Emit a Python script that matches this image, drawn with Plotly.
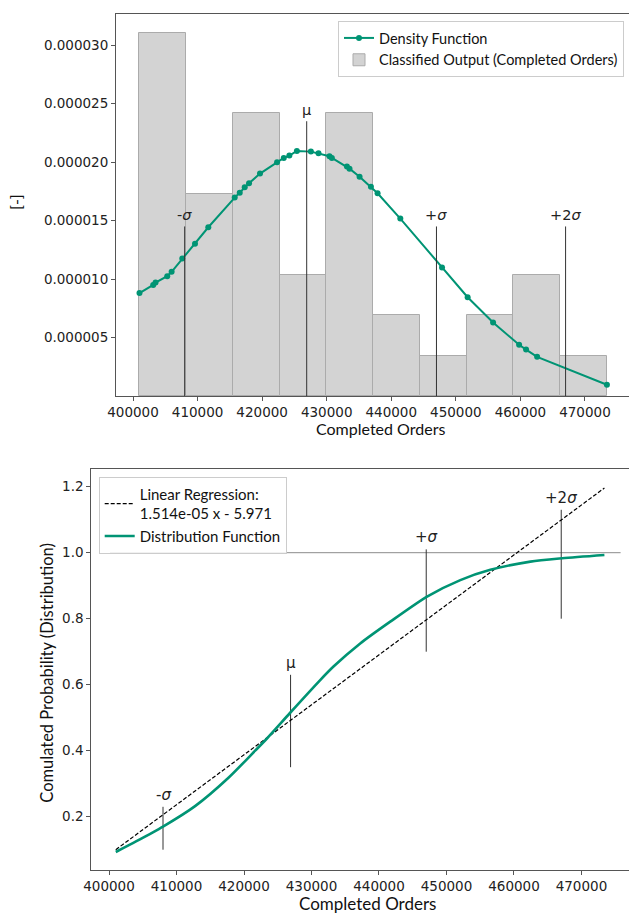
import plotly.graph_objects as go

W, H = 629, 913

# ---------------- data ----------------
bin_edges = [401000, 408240, 415480, 422720, 429960, 437200,
             444440, 451680, 458920, 466160, 473400]
bar_density = [3.108e-5, 1.727e-5, 2.417e-5, 1.036e-5, 2.417e-5,
               0.691e-5, 0.345e-5, 0.691e-5, 1.036e-5, 0.345e-5]

density_x = [401000, 403124, 403488, 405300, 405980, 407630, 409600, 411660,
             415750, 416530, 417300, 417970, 419670, 422310, 423350, 424220,
             425380, 427550, 428730, 430430, 430800, 433130, 433530, 435090,
             436850, 437880, 441400, 447860, 451830, 455770, 459800, 460880,
             462590, 473400]
density_y = [8.80e-6, 9.50e-6, 9.70e-6, 10.25e-6, 10.62e-6, 11.75e-6, 13.03e-6, 14.43e-6,
             16.97e-6, 17.39e-6, 17.86e-6, 18.20e-6, 19.02e-6, 20.00e-6, 20.36e-6, 20.56e-6,
             20.96e-6, 20.90e-6, 20.76e-6, 20.50e-6, 20.36e-6, 19.62e-6, 19.44e-6, 18.76e-6,
             17.90e-6, 17.34e-6, 15.17e-6, 10.98e-6, 8.45e-6, 6.28e-6, 4.38e-6, 3.97e-6,
             3.35e-6, 0.96e-6]

cdf_x = [401000, 404000, 408000, 412750, 417700, 421650, 423400, 426840, 431290,
         433260, 437220, 441670, 447120, 452050, 456500, 462440, 467140, 473400]
cdf_y = [0.093, 0.125, 0.170, 0.232, 0.318, 0.400, 0.437, 0.515, 0.614,
         0.655, 0.725, 0.791, 0.867, 0.917, 0.948, 0.973, 0.983, 0.993]

reg_x = [401000, 473400]
reg_y = [0.100, 1.196]

ref_x = [400150, 475800]
ref_y = [1.0, 1.0]

sigma_labels = ["-<i>σ</i>", "μ", "+<i>σ</i>", "+2<i>σ</i>"]
sigma_x = [408000, 426900, 447000, 467000]
sigma_top_density = [1.45e-5, 2.35e-5, 1.45e-5, 1.45e-5]
sigma_low_cdf = [0.10, 0.35, 0.70, 0.80]
sigma_high_cdf = [0.23, 0.63, 1.01, 1.13]

top_yticks = [5e-6, 1e-5, 1.5e-5, 2e-5, 2.5e-5, 3e-5]
xticks = [400000, 410000, 420000, 430000, 440000, 450000, 460000, 470000]
bot_yticks = [0.2, 0.4, 0.6, 0.8, 1.0, 1.2]

# ---------------- style ----------------
TEAL = "#009474"
TICKFONT = dict(family="DejaVu Sans", size=13.5, color="#222222")
TXT = "Lato"

bar_x = [(a + b) / 2 for a, b in zip(bin_edges[:-1], bin_edges[1:])]
bar_w = [b - a for a, b in zip(bin_edges[:-1], bin_edges[1:])]

fig = go.Figure()

# top chart
fig.add_trace(go.Bar(
    x=bar_x, y=bar_density, width=bar_w,
    marker=dict(color="#d3d3d3", line=dict(color="#ababab", width=1)),
    name="Classified Output (Completed Orders)",
    xaxis="x", yaxis="y", legend="legend", legendrank=2))
fig.add_trace(go.Scatter(
    x=density_x, y=density_y, mode="lines+markers",
    line=dict(color=TEAL, width=2), marker=dict(color=TEAL, size=6),
    name="Density Function", xaxis="x", yaxis="y", legend="legend", legendrank=1))
for sx, top in zip(sigma_x, sigma_top_density):
    fig.add_trace(go.Scatter(
        x=[sx, sx], y=[0, top], mode="lines",
        line=dict(color="#333333", width=1), showlegend=False,
        hoverinfo="skip", xaxis="x", yaxis="y"))

# bottom chart
fig.add_trace(go.Scatter(
    x=ref_x, y=ref_y, mode="lines", line=dict(color="#8c8c8c", width=1),
    showlegend=False, hoverinfo="skip", xaxis="x2", yaxis="y2"))
for sx, lo, hi in zip(sigma_x, sigma_low_cdf, sigma_high_cdf):
    fig.add_trace(go.Scatter(
        x=[sx, sx], y=[lo, hi], mode="lines",
        line=dict(color="#333333", width=1), showlegend=False,
        hoverinfo="skip", xaxis="x2", yaxis="y2"))
fig.add_trace(go.Scatter(
    x=reg_x, y=reg_y, mode="lines",
    line=dict(color="black", width=1.2, dash="4px,2px"),
    name="Linear Regression:<br>1.514e-05 x - 5.971",
    xaxis="x2", yaxis="y2", legend="legend2", legendrank=1))
fig.add_trace(go.Scatter(
    x=cdf_x, y=cdf_y, mode="lines",
    line=dict(color=TEAL, width=2.6, shape="spline", smoothing=0.7),
    name="Distribution Function",
    xaxis="x2", yaxis="y2", legend="legend2", legendrank=2))

axis_common = dict(showline=True, mirror=True, linecolor="#555555", linewidth=1,
                   ticks="outside", ticklen=4, tickcolor="#555555", tickwidth=1,
                   showgrid=False, zeroline=False, tickfont=TICKFONT, automargin=False)

annotations = []
for lab, sx, top in zip(sigma_labels, sigma_x, sigma_top_density):
    annotations.append(dict(x=sx, y=top, xref="x", yref="y", text=lab, showarrow=False,
                            xanchor="center", yanchor="bottom", yshift=1,
                            font=dict(family="DejaVu Sans", size=14.5, color="#222")))
for lab, sx, hi in zip(sigma_labels, sigma_x, sigma_high_cdf):
    annotations.append(dict(x=sx, y=hi, xref="x2", yref="y2", text=lab, showarrow=False,
                            xanchor="center", yanchor="bottom", yshift=1,
                            font=dict(family="DejaVu Sans", size=15, color="#222")))

# axis titles
annotations += [
    dict(text="Completed Orders", x=381 / W, y=1 - 428.5 / H, xref="paper", yref="paper",
         showarrow=False, xanchor="center", yanchor="middle",
         font=dict(family=TXT, size=16, color="#111")),
    dict(text="[-]", x=15.5 / W, y=1 - 202.5 / H, xref="paper", yref="paper",
         showarrow=False, xanchor="center", yanchor="middle", textangle=-90,
         font=dict(family=TXT, size=16, color="#111")),
    dict(text="Completed Orders", x=367 / W, y=1 - 903 / H, xref="paper", yref="paper",
         showarrow=False, xanchor="center", yanchor="middle",
         font=dict(family=TXT, size=17, color="#111")),
    dict(text="Comulated Probability (Distribution)", x=46.7 / W, y=1 - 673 / H,
         xref="paper", yref="paper", showarrow=False, xanchor="center", yanchor="middle",
         textangle=-90, font=dict(family=TXT, size=16.5, color="#111")),
]

fig.update_layout(
    width=W, height=H, autosize=False, margin=dict(l=0, r=0, t=0, b=0, autoexpand=False),
    paper_bgcolor="white", plot_bgcolor="white",
    barmode="overlay", bargap=0, showlegend=True,
    xaxis=dict(domain=[116 / W, 628.5 / W], range=[397364, 476744], anchor="y",
               tickvals=xticks, tickformat="d", **axis_common),
    yaxis=dict(domain=[1 - 396 / H, 1 - 14 / H], range=[0, 3.267e-5], anchor="x",
               tickvals=top_yticks, tickformat=".6f", **axis_common),
    xaxis2=dict(domain=[91.3 / W, 628.5 / W], range=[397375, 476969], anchor="y2",
                tickvals=xticks, tickformat="d", **axis_common),
    yaxis2=dict(domain=[1 - 870 / H, 1 - 469 / H], range=[0.0385, 1.2536], anchor="x2",
                tickvals=bot_yticks, tickformat=".1f", **axis_common),
    legend=dict(x=338 / W, y=1 - 21 / H, xanchor="left", yanchor="top",
                bgcolor="rgba(255,255,255,0.85)", bordercolor="#cccccc", borderwidth=1,
                font=dict(family=TXT, size=14.5, color="#111"), tracegroupgap=0),
    legend2=dict(x=98.7 / W, y=1 - 476.7 / H, xanchor="left", yanchor="top",
                 bgcolor="rgba(255,255,255,0.85)", bordercolor="#cccccc", borderwidth=1,
                 font=dict(family=TXT, size=15, color="#111"), tracegroupgap=0),
    annotations=annotations,
)

fig.write_html(
    "out.html",
    config={"responsive": False},
    default_width="629px",
    default_height="913px",
    post_script="document.body.style.margin='0';document.body.style.overflow='hidden';",
)
